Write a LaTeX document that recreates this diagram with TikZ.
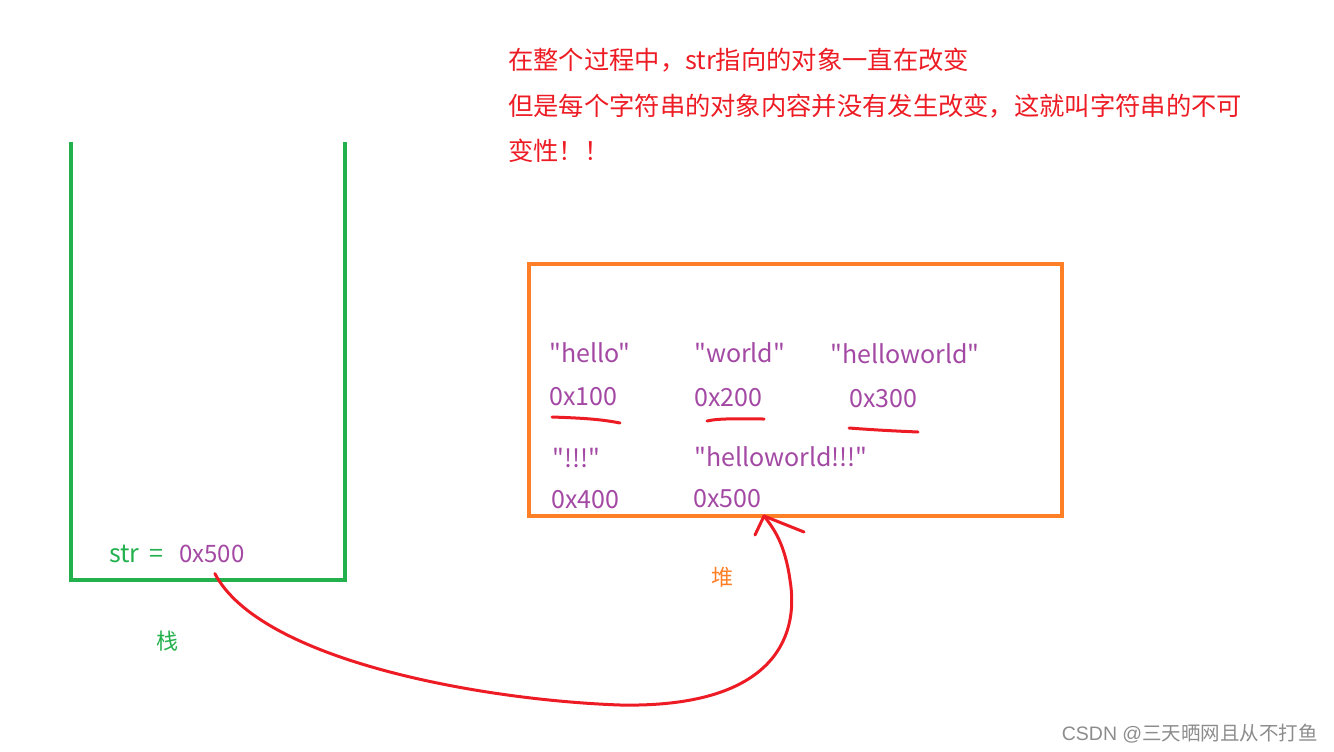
\documentclass[tikz,border=0pt]{standalone}
\usepackage{fontspec}
\setmainfont{Noto Sans CJK SC}
\newfontfamily\plainfont{Noto Sans CJK SC}
\newfontfamily\markfont{Liberation Sans}
\usetikzlibrary{positioning}
\definecolor{stackgreen}{RGB}{34,177,76}
\definecolor{heaporange}{RGB}{255,127,39}
\definecolor{addrpurple}{RGB}{163,73,164}
\definecolor{inkred}{RGB}{237,28,36}
\tikzset{
	addr/.style={anchor=base west, inner sep=0pt, text=addrpurple, font=\plainfont\fontsize{25}{28}\selectfont},
	remark/.style={anchor=base west, inner sep=0pt, text=inkred, font=\fontsize{25.3}{30}\selectfont},
	pen/.style={line width=3pt, color=inkred, line cap=round, line join=round}
}

\begin{document}
\begin{tikzpicture}[x=1pt, y=-1pt]
			%%%%% START %%%%%
			\useasboundingbox (0, 0) rectangle (1334, 752);
			
			\node[remark] (remarka) at (508, 70) {在整个过程中，str指向的对象一直在改变};
			\node[remark] (remarkb) at (508, 115) {但是每个字符串的对象内容并没有发生改变，这就叫字符串的不可};
			\node[remark] (remarkc) at (508, 160) {变性！！};
			
			\draw[line width=4pt, color=stackgreen] (71, 142) -- (71, 580) -- (345, 580) -- (345, 142);
			\node[anchor=base west, inner sep=0pt, text=stackgreen, font=\plainfont\fontsize{25}{28}\selectfont] (strlbl) at (109, 562) {str\,\ =};
			\node[addr, font=\plainfont\fontsize{24}{28}\selectfont] (s500) at (179, 562) {0x500};
			\node[text=stackgreen, font=\fontsize{22}{26}\selectfont] (stack) at (167, 641) {栈};
			
			\draw[line width=4pt, color=heaporange] (529, 264) rectangle (1062, 516);
			\node[text=heaporange, font=\fontsize{22}{26}\selectfont] (heap) at (722, 577) {堆};
			
			\node[addr] (hello) at (549, 362) {"hello"};
			\node[addr] (a100) at (549, 405) {0x100};
			\node[addr] (world) at (694, 362) {"world"};
			\node[addr] (a200) at (694, 406) {0x200};
			\node[addr] (hw) at (830, 363) {"helloworld"};
			\node[addr] (a300) at (849, 407) {0x300};
			\node[addr] (bang) at (552, 467) {"!!!"};
			\node[addr] (a400) at (551, 508) {0x400};
			\node[addr] (hwbang) at (694, 466) {"helloworld!!!"};
			\node[addr] (a500) at (693, 507) {0x500};
			
			\draw[pen] (552, 417) .. controls (580, 418) and (600, 419) .. (620, 423);
			\draw[pen] (707, 421) .. controls (720, 418) and (740, 419) .. (764, 419);
			\draw[pen] (849, 428) .. controls (875, 430) and (895, 431) .. (918, 432);
			
			\coordinate (tip) at (764, 516);
			\draw[pen] ([shift={(3, 11)}]s500.south) .. controls (260, 660) and (480, 700) .. (620, 705)
				.. controls (770, 708) and (800, 640) .. (790, 580)
				.. controls (785, 545) and (775, 530) .. (tip);
			\draw[pen] (tip) -- (755, 535);
			\draw[pen] (tip) -- (804, 532);
			
			\node[anchor=base east, inner sep=0pt, text=black!45, font=\fontsize{19.5}{22}\selectfont] (mark) at (1318, 740) {{\markfont CSDN @}三天晒网且从不打鱼};
			%%%%% END %%%%%
\end{tikzpicture}
\end{document}
